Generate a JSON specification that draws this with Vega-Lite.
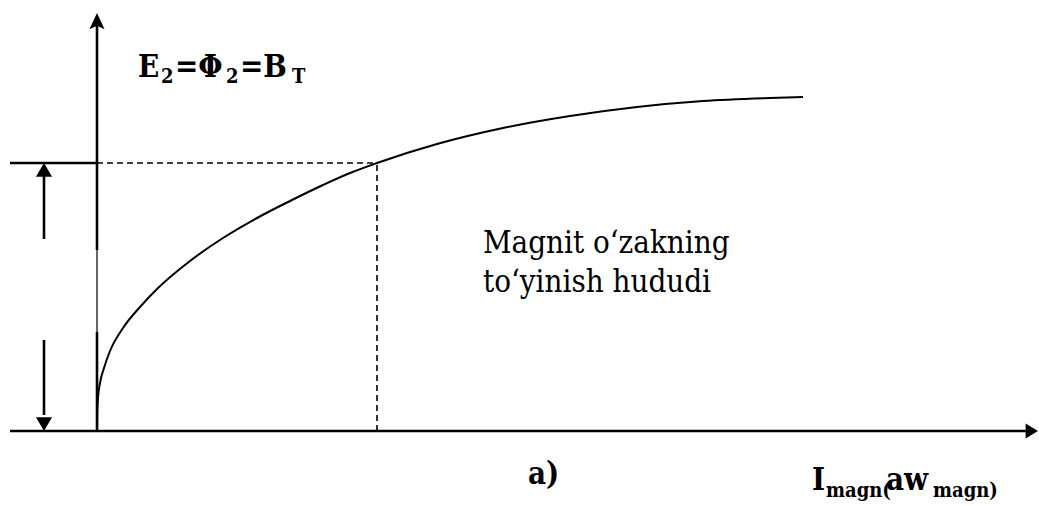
{
  "$schema": "https://vega.github.io/schema/vega-lite/v6.json",
  "width": 1039,
  "height": 506,
  "padding": 0,
  "autosize": {"type": "fit", "contains": "padding"},
  "background": "white",
  "config": {"view": {"stroke": null}},
  "datasets": {
    "segs": [
      {"x": -87, "y": 0, "x2": 930, "y2": 0},
      {"x": 0, "y": 0, "x2": 0, "y2": 99},
      {"x": 0, "y": 181, "x2": 0, "y2": 406},
      {"x": -87, "y": 268, "x2": 0, "y2": 268},
      {"x": -53, "y": 192, "x2": -53, "y2": 256},
      {"x": -53, "y": 16, "x2": -53, "y2": 91}
    ],
    "thin": [
      {"x": 0, "y": 99, "x2": 0, "y2": 181}
    ],
    "dashes": [
      {"x": 0, "y": 268, "x2": 280, "y2": 268},
      {"x": 280, "y": 0, "x2": 280, "y2": 268}
    ],
    "curve": [
      {"x": 0, "y": 0}, {"x": 0.3, "y": 20}, {"x": 1, "y": 33}, {"x": 3, "y": 48},
      {"x": 7, "y": 63}, {"x": 13, "y": 80}, {"x": 26, "y": 103}, {"x": 43, "y": 124},
      {"x": 60, "y": 142}, {"x": 93, "y": 170}, {"x": 126, "y": 193}, {"x": 160, "y": 213},
      {"x": 193, "y": 230}, {"x": 226, "y": 246}, {"x": 253, "y": 258}, {"x": 280, "y": 268},
      {"x": 340, "y": 287}, {"x": 406, "y": 303}, {"x": 473, "y": 315}, {"x": 540, "y": 324},
      {"x": 606, "y": 330}, {"x": 673, "y": 333}, {"x": 706, "y": 334}
    ],
    "heads": [
      {"x": 0, "y": 408.5, "dir": "stealth"},
      {"x": -53, "y": 260, "dir": "up"},
      {"x": -53, "y": 8, "dir": "down"},
      {"x": 931.5, "y": 0, "dir": "right"}
    ],
    "textMain": [
      {"x": 41, "y": 354, "label": "E"},
      {"x": 78, "y": 354, "label": "=Φ"},
      {"x": 143, "y": 354, "label": "=B"},
      {"x": 715, "y": -59, "label": "I"},
      {"x": 789, "y": -59, "label": "aw"},
      {"x": 431, "y": -53, "label": "a)"}
    ],
    "textSub": [
      {"x": 64, "y": 348, "label": "2"},
      {"x": 129, "y": 348, "label": "2"},
      {"x": 195, "y": 348, "label": "T"},
      {"x": 729, "y": -66, "label": "magn("},
      {"x": 836, "y": -66, "label": "magn)"}
    ],
    "textBody": [
      {"x": 386, "y": 178, "label": "Magnit o‘zakning"},
      {"x": 386, "y": 139, "label": "to‘yinish hududi"}
    ]
  },
  "layer": [
    {
      "data": {"name": "segs"},
      "mark": {"type": "rule", "color": "black", "strokeWidth": 2.6},
      "encoding": {
        "x": {"field": "x", "type": "quantitative", "scale": {"domain": [-97, 942], "nice": false, "zero": false}, "axis": null},
        "y": {"field": "y", "type": "quantitative", "scale": {"domain": [-75, 431], "nice": false, "zero": false}, "axis": null},
        "x2": {"field": "x2"},
        "y2": {"field": "y2"}
      }
    },
    {
      "data": {"name": "thin"},
      "mark": {"type": "rule", "color": "black", "strokeWidth": 1.2},
      "encoding": {
        "x": {"field": "x", "type": "quantitative", "axis": null},
        "y": {"field": "y", "type": "quantitative", "axis": null},
        "x2": {"field": "x2"},
        "y2": {"field": "y2"}
      }
    },
    {
      "data": {"name": "dashes"},
      "mark": {"type": "rule", "color": "black", "strokeWidth": 1.6, "strokeDash": [6, 4]},
      "encoding": {
        "x": {"field": "x", "type": "quantitative", "axis": null},
        "y": {"field": "y", "type": "quantitative", "axis": null},
        "x2": {"field": "x2"},
        "y2": {"field": "y2"}
      }
    },
    {
      "data": {"name": "curve"},
      "mark": {"type": "line", "color": "black", "strokeWidth": 2, "interpolate": "monotone"},
      "encoding": {
        "x": {"field": "x", "type": "quantitative", "axis": null},
        "y": {"field": "y", "type": "quantitative", "axis": null}
      }
    },
    {
      "data": {"name": "heads"},
      "mark": {"type": "point", "filled": true, "color": "black", "opacity": 1, "size": 360, "strokeWidth": 0},
      "encoding": {
        "x": {"field": "x", "type": "quantitative", "axis": null},
        "y": {"field": "y", "type": "quantitative", "axis": null},
        "shape": {
          "field": "dir",
          "type": "nominal",
          "legend": null,
          "scale": {
            "domain": ["stealth", "up", "down", "right"],
            "range": ["M0,-1L0.8,0.7L0,0.35L-0.8,0.7Z", "M0,-0.85L0.85,0.6L-0.85,0.6Z", "M0,0.85L0.85,-0.6L-0.85,-0.6Z", "M1,0L-0.3,-0.8L-0.3,0.8Z"]
          }
        }
      }
    },
    {
      "data": {"name": "textMain"},
      "mark": {"type": "text", "font": "DejaVu Serif Condensed, DejaVu Serif", "fontWeight": "bold", "fontSize": 31, "align": "left", "baseline": "alphabetic", "color": "black"},
      "encoding": {
        "x": {"field": "x", "type": "quantitative", "axis": null},
        "y": {"field": "y", "type": "quantitative", "axis": null},
        "text": {"field": "label"}
      }
    },
    {
      "data": {"name": "textSub"},
      "mark": {"type": "text", "font": "DejaVu Serif Condensed, DejaVu Serif", "fontWeight": "bold", "fontSize": 20, "align": "left", "baseline": "alphabetic", "color": "black"},
      "encoding": {
        "x": {"field": "x", "type": "quantitative", "axis": null},
        "y": {"field": "y", "type": "quantitative", "axis": null},
        "text": {"field": "label"}
      }
    },
    {
      "data": {"name": "textBody"},
      "mark": {"type": "text", "font": "DejaVu Serif Condensed, DejaVu Serif", "fontSize": 31, "align": "left", "baseline": "alphabetic", "color": "black"},
      "encoding": {
        "x": {"field": "x", "type": "quantitative", "axis": null},
        "y": {"field": "y", "type": "quantitative", "axis": null},
        "text": {"field": "label"}
      }
    }
  ]
}
